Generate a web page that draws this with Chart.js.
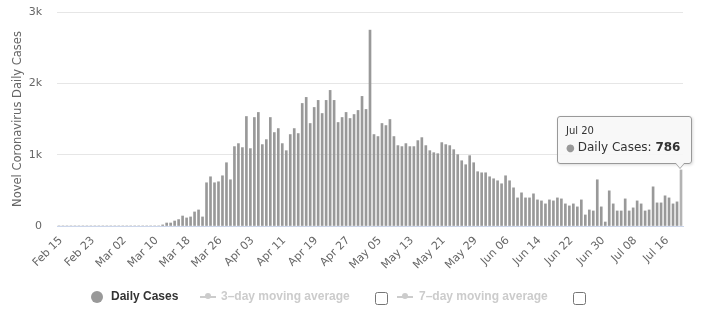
<!DOCTYPE html>
<html lang="en">
<head>
<meta charset="UTF-8">
<title>Novel Coronavirus Daily Cases</title>
<script src="https://cdn.jsdelivr.net/npm/chart.js@4.4.0/dist/chart.umd.min.js"></script>
<style>
    body { margin: 0; background: #fff; font-family: 'DejaVu Sans', sans-serif; }
    #wrap { position: relative; width: 714px; height: 330px; }
    #legend .dot { position: absolute; left: 91px; top: 291px; width: 12px; height: 12px; border-radius: 50%; background: #999; }
    #legend .txt { position: absolute; top: 289px; font: bold 12px 'Liberation Sans', Arial, sans-serif; color: #333; white-space: nowrap; }
    #legend .off { color: #ccc; }
    #legend .sym { position: absolute; top: 296px; width: 16px; height: 2px; background: #ccc; }
    #legend .sym::after { content: ''; position: absolute; left: 5px; top: -3px; width: 6px; height: 6px; border-radius: 50%; background: #ccc; }
    #legend input { position: absolute; top: 292px; margin: 0; width: 13px; height: 13px; }
    #tip {
        position: absolute; display: none; padding: 7px 11px 6px 8px;
        background: rgba(247, 247, 247, 0.9); border: 1px solid #999; border-radius: 3px;
        box-shadow: 1px 1px 3px rgba(0, 0, 0, 0.15); color: #333; white-space: nowrap;
    }
    #tip .tip-title { font-size: 10px; line-height: 14px; }
    #tip .tip-body { font-size: 12px; line-height: 18px; }
    #tip .tip-dot { color: #999; font-size: 10px; margin-right: 3px; }
    #tip::before, #tip::after {
        content: ''; position: absolute; right: 6px; width: 0; height: 0;
        border-left: 5px solid transparent; border-right: 5px solid transparent;
    }
    #tip::before { bottom: -6px; border-top: 6px solid #999; }
    #tip::after { bottom: -5px; border-top: 6px solid #f7f7f7; }
</style>
</head>
<body>
<div id="wrap">
    <canvas id="casesChart" width="714" height="330"></canvas>
    <div id="legend">
        <span class="dot"></span>
        <span class="txt" style="left:111px">Daily Cases</span>
        <span class="sym" style="left:200px"></span>
        <span class="txt off" style="left:221px">3–day moving average</span>
        <input type="checkbox" style="left:375px">
        <span class="sym" style="left:397px"></span>
        <span class="txt off" style="left:419px">7–day moving average</span>
        <input type="checkbox" style="left:573px">
    </div>
    <div id="tip">
        <div class="tip-title"></div>
        <div class="tip-body"><span class="tip-dot">●</span><span class="tip-name"></span><b class="tip-value"></b></div>
    </div>
</div>

<script>
    // one bar per day, Feb 15 - Jul 20 2020
    const startDay = new Date(2020, 1, 15);
    const dayCount = 157;
    const monthNames = ['Jan', 'Feb', 'Mar', 'Apr', 'May', 'Jun', 'Jul', 'Aug', 'Sep', 'Oct', 'Nov', 'Dec'];
    const dayLabels = [];
    for (let i = 0; i < dayCount; i++) {
        const d = new Date(startDay.getFullYear(), startDay.getMonth(), startDay.getDate() + i);
        dayLabels.push(monthNames[d.getMonth()] + ' ' + String(d.getDate()).padStart(2, '0'));
    }

    const dailyCases = [
        0, 0, 0, 0, 0, 0, 0, 0, 0, 0, 0, 0, 0, 0, 0, 0, 0, 0, 0, 0, 0, 0, 0, 0, 0, 0,
        15, 42, 42, 70, 90, 140, 113, 127, 197, 225, 127, 606, 690, 606, 620, 704, 887, 648, 1113, 1155, 1099,
        1535, 1085, 1521, 1592, 1141, 1211, 1521, 1310, 1366, 1155, 1056, 1282, 1366, 1296, 1718, 1803, 1437, 1662, 1761, 1577, 1761, 1901,
        1761, 1451, 1521, 1592, 1507, 1563, 1620, 1817, 1634, 2746, 1282, 1254, 1437, 1408, 1493, 1254, 1127, 1113, 1155, 1113, 1113, 1197, 1239,
        1127, 1056, 1028, 1014, 1169, 1141, 1127, 1070, 1000, 915, 859, 986, 887, 761, 746, 746, 690, 662, 634, 592, 704, 634,
        535, 394, 465, 394, 394, 451, 366, 352, 310, 366, 352, 394, 380, 310, 282, 310, 268, 366, 155, 225, 211,
        648, 268, 56, 493, 310, 211, 211, 380, 211, 254, 352, 310, 211, 225, 549, 324, 324, 423, 394, 310, 338, 786
    ];

    const yTicks = [0, 1000, 2000, 3000];
    const labelEvery = 8;

    Chart.defaults.font.family = "'DejaVu Sans', sans-serif";

    function showTooltip(context) {
        const tip = context.tooltip;
        const el = document.getElementById('tip');
        if (tip.opacity === 0 || !tip.dataPoints || !tip.dataPoints.length) {
            el.style.display = 'none';
            return;
        }
        const pt = tip.dataPoints[0];
        el.querySelector('.tip-title').textContent = pt.label;
        el.querySelector('.tip-name').textContent = pt.dataset.label + ': ';
        el.querySelector('.tip-value').textContent = pt.formattedValue;
        el.style.display = 'block';
        el.style.left = (tip.caretX + 11 - el.offsetWidth) + 'px';
        el.style.top = (tip.caretY - 6 - el.offsetHeight) + 'px';
    }

    const ctx = document.getElementById('casesChart').getContext('2d');
    const chart = new Chart(ctx, {
        type: 'bar',
        data: {
            labels: dayLabels,
            datasets: [{
                label: 'Daily Cases',
                data: dailyCases,
                backgroundColor: '#999999',
                hoverBackgroundColor: '#b3b3b3',
                borderWidth: 0,
                barThickness: 2
            }]
        },
        options: {
            responsive: false,
            animation: false,
            events: [],
            layout: { padding: { top: 12, right: 31, left: 0, bottom: 0 } },
            scales: {
                x: {
                    grid: { display: false, drawTicks: false },
                    border: { color: '#ccd6eb', width: 1 },
                    ticks: {
                        autoSkip: false,
                        minRotation: 45,
                        maxRotation: 45,
                        color: '#666',
                        font: { size: 11 },
                        padding: 8,
                        labelOffset: 2,
                        callback: (v, i) => i % labelEvery === 0 ? dayLabels[i] : ''
                    },
                    afterFit: s => { s.height = 104; s.paddingTop = 0; s.paddingBottom = 0; }
                },
                y: {
                    min: yTicks[0],
                    max: yTicks[yTicks.length - 1],
                    afterBuildTicks: s => { s.ticks = yTicks.map(v => ({ value: v })); },
                    ticks: {
                        color: '#666',
                        font: { size: 11 },
                        padding: 15,
                        callback: v => v === 0 ? '0' : (v / 1000) + 'k'
                    },
                    grid: {
                        drawTicks: false,
                        color: c => c.tick && c.tick.value === 0 ? 'rgba(0,0,0,0)' : '#e6e6e6'
                    },
                    border: { display: false },
                    title: {
                        display: true,
                        text: 'Novel Coronavirus Daily Cases',
                        color: '#666',
                        font: { size: 11.5 },
                        padding: { top: 11, bottom: 0 }
                    },
                    afterFit: s => { s.width = 57; s.paddingTop = 0; s.paddingBottom = 0; }
                }
            },
            plugins: {
                legend: { display: false },
                tooltip: { enabled: false, external: showTooltip }
            }
        }
    });

    // highlight the latest day
    const lastIdx = dailyCases.length - 1;
    const lastBar = chart.getDatasetMeta(0).data[lastIdx];
    chart.setActiveElements([{ datasetIndex: 0, index: lastIdx }]);
    chart.tooltip.setActiveElements([{ datasetIndex: 0, index: lastIdx }], { x: lastBar.x, y: lastBar.y });
    chart.update();
</script>
</body>
</html>
